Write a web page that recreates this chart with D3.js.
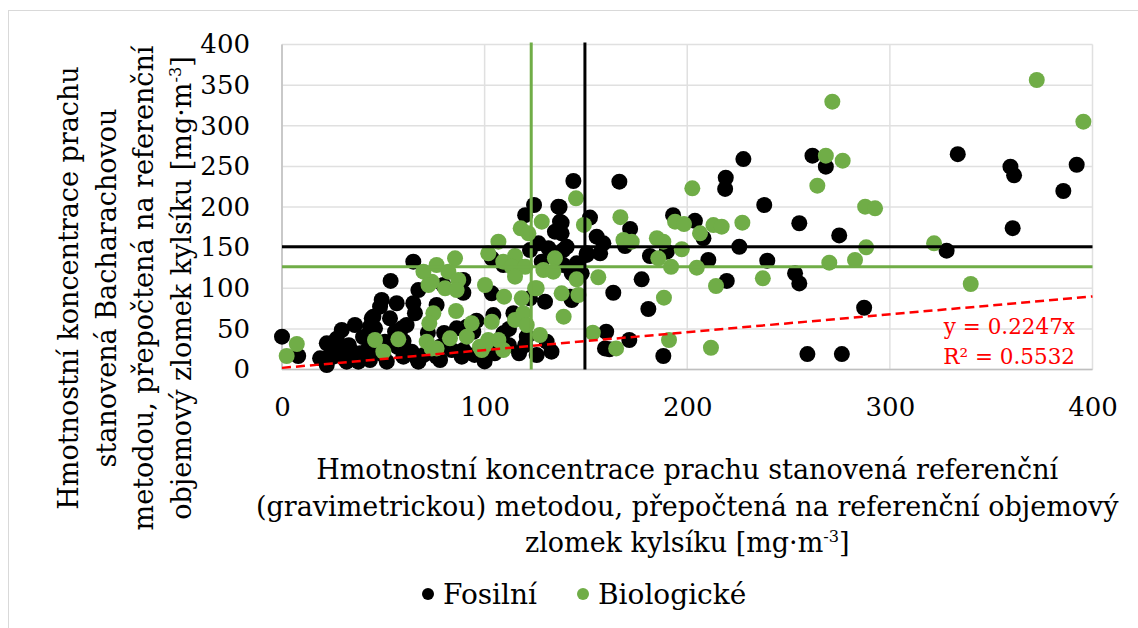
<!DOCTYPE html>
<html><head><meta charset="utf-8">
<script src="https://cdn.jsdelivr.net/npm/d3@7"></script>
<style>
html,body{margin:0;padding:0;background:#fff;}
svg text{font-family:"DejaVu Serif",serif;fill:#000;}
</style></head>
<body>
<svg id="chart" width="1138" height="628"></svg>
<script>
// ---- data ----
const fossilX = [333.5,359.5,361.3,392.2,385.6,360.6,328,287.3,
 261.8,268.4,227.7,219,218.7,166.5,143.8,238,255.3,137,138,152,171.8,193,203.8,275,
 169.3,155.3,158.6,157,150.4,138.8,138,181.6,189.9,208,225.7,210.4,219.5,239.5,253.2,255.3,177.5,163.5,180.8,143,143,160,161.6,171.4,188.2,259.3,276.3,
 124.4,120,136.4,137.2,134.7,126.6,122.4,131.5,140.5,150.4,103.5,109.2,117.1,128.2,138.8,145.4,147.9,89.5,79.6,
 64.8,67.3,53.6,89.5,103.5,76.3,64.8,56.6,49.2,48.4,53.3,59.1,45.1,36,29.5,43.4,22.1,23.7,18.8,31.9,22.1,38.5,43.4,51.7,59.9,66.5,78,86.2,88.7,83.8,104.3,109.2,114.2,120.8,125.7,129.8,0,8,
 65.6,55.8,50.8,34.4,37.7,64,67.3,42.6,28.6,25.3,61.5,45.9,44.3,
 91.2,122.4,142.2,130.6,159.4,94.4,89.5,78,76.3,
 27,33,40,47,57,70,72,80,95,100,105,112,117,96,112,60,30,50,120,133];
const fossilY = [265,249.6,239,252,219.7,174,146.2,76,
 263.2,249.6,259,236,222.2,231.2,232,202.5,180,200,180.7,187,173,190,183,165,
 152,163.5,155.3,143,143,147,167.6,139.7,145,161.5,151.1,134.8,109,134,118.4,106,111,94.5,74.5,85.5,118.4,46.5,24.9,36.3,16.6,19,19,
 202.5,190,200.4,182,169.6,155.3,147,149.2,151,141,136.8,128.6,126.5,132.7,128.6,130.7,118.4,110.2,104,
 132.7,97.8,109,94.5,93.8,79.4,81.5,81.5,85.5,77.3,63,50.7,65,54.8,48.6,52.7,32.2,17.8,13.8,9.6,5.5,19.9,11.7,9.6,15.8,13.8,11.7,50.7,15.8,24,67,44.5,69.2,40.4,17.8,83.5,40.4,16.6,
 69.2,46.5,34.2,21.9,9.6,21.9,9.6,26,26,15.8,54.8,50.7,63,
 52.7,87.6,89.6,34.2,26,46.5,24,28,15.8,
 38,30,40,27,28,18,45,45,18,10,20,30,20,60,50,35,15,18,30,22];

const bioX = [372.5,395.5,287.8,292.7,288.3,282.8,321.8,339.9,
 271.6,268.4,276.7,264.2,202.5,145.1,149,167,194,198.4,212.9,217,227.2,
 168.5,172.6,185,188.2,185.7,192,197.3,206.3,204.7,214.2,237.3,270.1,188.5,156.1,145.4,146.3,138,139,153.4,164.9,191,211.7,
 128.2,117.8,121.6,106.8,101.8,109.2,115,113.4,120,134.7,129,133.9,76.3,85.4,82.1,87,73.9,115,100.2,
 69.8,72.3,80.5,109.6,85.9,74.7,72.7,45.9,57.4,50,71.4,76.3,82.9,91.2,93.6,97.7,101.8,103.5,106.8,109.2,115,119.1,120.8,127.3,125.7,118.3,7.3,2.3,
 86.2,124.9,98.6,100.2,73.9];
const bioY = [356.3,305,200.4,198.4,150.4,134.8,155.3,105.2,
 329.6,263.2,257,226.2,223,210.7,178,187.5,182,179,177.8,175.8,180.7,
 159.4,157.3,161.5,157.3,136.8,126.5,148,167.6,125.3,102.8,112.2,131.5,88.4,113.5,111,91.7,93.8,65,45.3,26,36.3,26.8,
 182,173.8,167.6,157.3,143,132.7,139.7,126.5,126.5,136.8,122.5,120.4,128.6,136.8,120.4,110.2,108,114.2,104,
 120.4,104,100,89.6,72,69.2,56.9,36.3,37.1,21.9,34.2,26,38.4,40.4,56.9,28,36.3,58.8,36.3,24,61,69.2,54.8,42.5,100,87.6,31.4,16.6,
 97.8,100,24,30,26];

const fossilMean = [149.5, 151];   // [x, y]
const bioMean = [123, 126.5];      // [x, y]
const trendSlope = 0.2247;
const trendLabels = ["y = 0.2247x", "R² = 0.5532"];
const xTicks = [0,100,200,300,400];
const yTicks = [0,50,100,150,200,250,300,350,400];
const seriesNames = ["Fosilní", "Biologické"];
const seriesColors = ["#000000", "#70ad47"];
const xTitle = ["Hmotnostní koncentrace prachu stanovená referenční",
 "(gravimetrickou) metodou, přepočtená na referenční objemový",
 "zlomek kylsíku [mg·m-3]"];
const yTitle = ["Hmotnostní koncentrace prachu",
 "stanovená Bacharachovou",
 "metodou, přepočtená na referenční",
 "objemový zlomek kylsíku [mg·m-3]"];

// ---- layout ----
const svg = d3.select("#chart");
const L = 282, R = 1092.5, T = 44.5, B = 369.5;
const x = d3.scaleLinear().domain([0,400]).range([L,R]);
const y = d3.scaleLinear().domain([0,400]).range([B,T]);

// outer border
svg.append("rect").attr("x",8.5).attr("y",10.5).attr("width",1200).attr("height",700)
  .attr("fill","none").attr("stroke","#d9d9d9").attr("stroke-width",1);

// grid
const g = svg.append("g");
g.selectAll(".gx").data(xTicks).join("line")
  .attr("x1",d=>x(d)).attr("x2",d=>x(d)).attr("y1",T).attr("y2",B)
  .attr("stroke","#e0e0e0").attr("stroke-width",1.5);
g.selectAll(".gy").data(yTicks).join("line")
  .attr("x1",L).attr("x2",R).attr("y1",d=>y(d)).attr("y2",d=>y(d))
  .attr("stroke","#e0e0e0").attr("stroke-width",1.5);
g.append("line").attr("x1",L).attr("x2",R).attr("y1",B).attr("y2",B).attr("stroke","#bfbfbf").attr("stroke-width",1.5);
g.append("line").attr("x1",L).attr("x2",L).attr("y1",T).attr("y2",B).attr("stroke","#bfbfbf").attr("stroke-width",1.5);

// axes labels via d3 axes
const xAxis = svg.append("g").attr("transform",`translate(0,${B})`)
  .call(d3.axisBottom(x).tickValues(xTicks).tickSize(0).tickPadding(28).tickFormat(d3.format("d")));
const yAxis = svg.append("g").attr("transform",`translate(${L},0)`)
  .call(d3.axisLeft(y).tickValues(yTicks).tickSize(0).tickPadding(32).tickFormat(d3.format("d")));
[xAxis,yAxis].forEach(a=>{
  a.select(".domain").remove();
  a.selectAll("text").attr("font-family","DejaVu Serif").attr("font-size",26).attr("fill","#000");
});

// points
const fossil = fossilX.map((v,i)=>[v,fossilY[i]]);
const bio = bioX.map((v,i)=>[v,bioY[i]]);
svg.append("g").selectAll("circle").data(fossil).join("circle")
  .attr("cx",d=>x(d[0])).attr("cy",d=>y(d[1])).attr("r",8).attr("fill",seriesColors[0]);
svg.append("g").selectAll("circle").data(bio).join("circle")
  .attr("cx",d=>x(d[0])).attr("cy",d=>y(d[1])).attr("r",8).attr("fill",seriesColors[1]);

// mean lines
function meanLines(m,color){
  svg.append("line").attr("x1",x(m[0])).attr("x2",x(m[0])).attr("y1",T-2).attr("y2",B)
    .attr("stroke",color).attr("stroke-width",3);
  svg.append("line").attr("x1",L).attr("x2",R).attr("y1",y(m[1])).attr("y2",y(m[1]))
    .attr("stroke",color).attr("stroke-width",3);
}
meanLines(bioMean,seriesColors[1]);
meanLines(fossilMean,seriesColors[0]);

// trend line
svg.append("line").attr("x1",x(0)).attr("y1",y(2)).attr("x2",x(400)).attr("y2",y(400*trendSlope))
  .attr("stroke","#ff0000").attr("stroke-width",2.5).attr("stroke-dasharray","9,5");
svg.append("g").selectAll("text").data(trendLabels).join("text")
  .attr("x",1075).attr("y",(d,i)=>334+i*30).attr("text-anchor","end")
  .attr("font-size",21.5).style("fill","#ff0000").text(d=>d);

function supText(t,d,fs){
  if(d.endsWith("m-3]")){ t.text(d.slice(0,-3)); t.append("tspan").attr("dy",-10).attr("font-size",fs*0.6).text("-3"); t.append("tspan").attr("dy",10).text("]"); }
  else t.text(d);
}
// x title
const cx = (L+R)/2;
svg.append("g").selectAll("text").data(xTitle).join("text")
  .attr("x",cx).attr("y",(d,i)=>479+i*36.5).attr("text-anchor","middle").attr("font-size",27)
  .each(function(d){ supText(d3.select(this),d,27); });

// y title
svg.append("g").selectAll("text").data(yTitle).join("text")
  .attr("transform",(d,i)=>`translate(${78+i*37.5},288) rotate(-90)`)
  .attr("text-anchor","middle").attr("font-size",27)
  .each(function(d){ supText(d3.select(this),d,27); });

// legend
const leg = svg.append("g");
const legX = [428, 583];
seriesNames.forEach((n,i)=>{
  leg.append("circle").attr("cx",legX[i]).attr("cy",594).attr("r",6).attr("fill",seriesColors[i]);
  leg.append("text").attr("x",legX[i]+15).attr("y",604).attr("font-size",28).text(n);
});
</script>
</body></html>
